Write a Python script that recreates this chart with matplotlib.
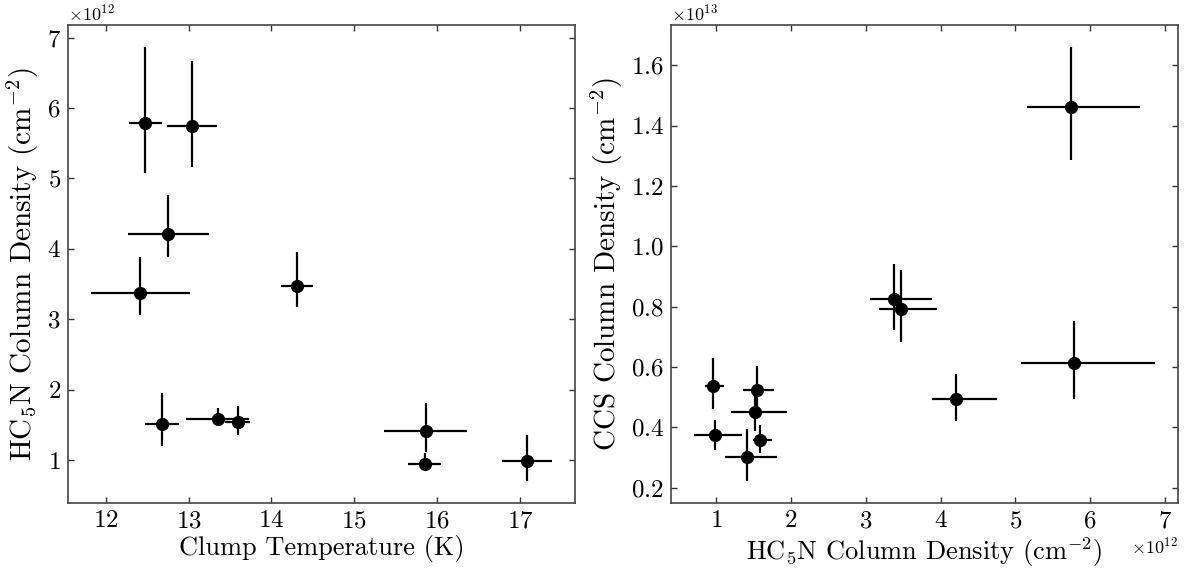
import numpy as np
import matplotlib
matplotlib.use('Agg')
import matplotlib.pyplot as plt

plt.rcParams['font.family'] = 'serif'
plt.rcParams['font.serif'] = ['cmr10']
plt.rcParams['mathtext.fontset'] = 'cm'
plt.rcParams['axes.formatter.use_mathtext'] = True

# Clump temperature (K) with symmetric errors
temp = np.array([12.48, 13.04, 12.755, 12.42, 14.31, 12.68, 13.35, 13.595, 15.865, 15.85, 17.09])
temp_err = np.array([0.20, 0.30, 0.49, 0.60, 0.19, 0.20, 0.38, 0.15, 0.50, 0.20, 0.30])

# HC5N column density (cm^-2) with lower/upper bounds
hc5n = np.array([5.78, 5.74, 4.205, 3.38, 3.47, 1.52, 1.58, 1.545, 1.415, 0.95, 0.99]) * 1e12
hc5n_lo = np.array([5.08, 5.16, 3.88, 3.06, 3.18, 1.20, 1.49, 1.36, 1.12, 0.855, 0.70]) * 1e12
hc5n_hi = np.array([6.87, 6.66, 4.76, 3.89, 3.95, 1.95, 1.74, 1.77, 1.815, 1.10, 1.35]) * 1e12

# CCS column density (cm^-2) with lower/upper bounds
ccs = np.array([0.613, 1.463, 0.495, 0.825, 0.791, 0.449, 0.358, 0.524, 0.300, 0.538, 0.374]) * 1e13
ccs_lo = np.array([0.494, 1.286, 0.422, 0.722, 0.683, 0.388, 0.315, 0.455, 0.221, 0.461, 0.325]) * 1e13
ccs_hi = np.array([0.753, 1.662, 0.576, 0.940, 0.920, 0.530, 0.406, 0.604, 0.394, 0.629, 0.425]) * 1e13

hc5n_err = [hc5n - hc5n_lo, hc5n_hi - hc5n]
ccs_err = [ccs - ccs_lo, ccs_hi - ccs]

fig = plt.figure(figsize=(11.92, 5.73), dpi=100)
ax1 = fig.add_axes([0.0568, 0.1222, 0.4258, 0.8342])
ax2 = fig.add_axes([0.5627, 0.1222, 0.4258, 0.8342])

estilo = dict(fmt='o', color='black', ecolor='black', markersize=8.5, elinewidth=1.6, capsize=0)

ax1.errorbar(temp, hc5n, xerr=temp_err, yerr=hc5n_err, **estilo)
ax1.set_xlabel('Clump Temperature (K)', fontsize=19, labelpad=2)
ax1.set_ylabel(r'HC$_5$N Column Density (cm$^{-2}$)', fontsize=21, labelpad=4)
ax1.set_xticks([12, 13, 14, 15, 16, 17])
ax1.set_yticks(np.array([1, 2, 3, 4, 5, 6, 7]) * 1e12)

ax2.errorbar(hc5n, ccs, xerr=hc5n_err, yerr=ccs_err, **estilo)
ax2.set_xlabel(r'HC$_5$N Column Density (cm$^{-2}$)', fontsize=19, labelpad=2)
ax2.set_ylabel(r'CCS Column Density (cm$^{-2}$)', fontsize=21, labelpad=4)
ax2.set_xticks(np.array([1, 2, 3, 4, 5, 6, 7]) * 1e12)
ax2.set_yticks(np.array([0.2, 0.4, 0.6, 0.8, 1.0, 1.2, 1.4, 1.6]) * 1e13)

for ax in (ax1, ax2):
    ax.tick_params(direction='in', top=True, right=True, labelsize=18, length=4, width=1,
                   color='#333333', pad=5)
    for s in ax.spines.values():
        s.set_color('#444444')
        s.set_linewidth(1.2)
    ax.xaxis.get_offset_text().set_fontsize(13)
    ax.yaxis.get_offset_text().set_fontsize(13)

plt.savefig('out.png', dpi=100)
